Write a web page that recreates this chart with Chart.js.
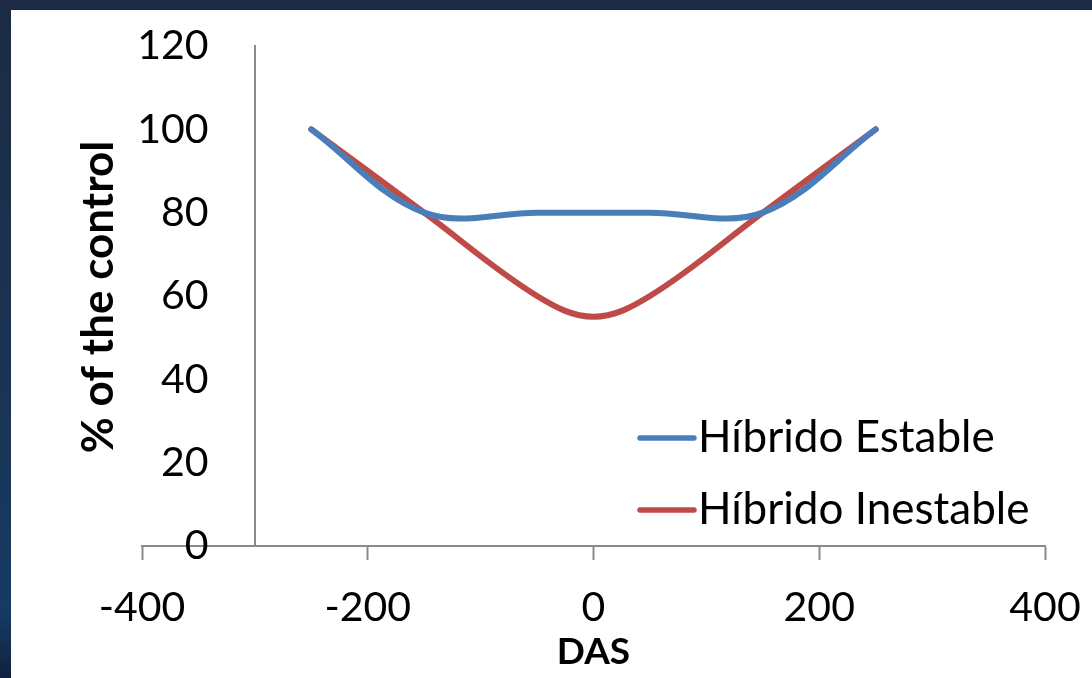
<!DOCTYPE html>
<html>
<head>
<meta charset="utf-8">
<script src="https://cdn.jsdelivr.net/npm/chart.js@4.4.1/dist/chart.umd.min.js"></script>
<style>
  html, body { margin: 0; padding: 0; }
  body {
    width: 1092px; height: 678px; overflow: hidden;
    background: linear-gradient(to bottom, #1c2b43 0%, #1b3250 45%, #173a63 90%, #10223f 100%);
    position: relative;
  }
  #wrap {
    position: absolute; left: 11px; top: 10px;
    width: 1081px; height: 668px; background: #ffffff;
  }
  canvas { display: block; }
</style>
</head>
<body>
<div id="wrap"><canvas id="chart" width="1081" height="668"></canvas></div>
<script>
// Days after sowing (DAS) and yield as % of the control
const das = [-250, -150, -50, 0, 50, 150, 250];
const estable = [100, 80, 80, 80, 80, 80, 100];
const inestable = [100, 80, 60, 55, 60, 80, 100];

const seriesNames = ['Híbrido Estable', 'Híbrido Inestable'];
const seriesColors = ['#4a7ebb', '#be4b48'];

const xTicks = [-400, -200, 0, 200, 400];
const yTicks = [0, 20, 40, 60, 80, 100, 120];

const yTitle = '% of the control';
const xTitle = 'DAS';

const FONT = 'Lato, Calibri, "Open Sans", sans-serif';

function toPoints(values) {
  return das.map((d, i) => ({ x: d, y: values[i] }));
}

// Rotated y-axis title and the in-plot legend
const decorations = {
  id: 'decorations',
  afterDraw(chart) {
    const { ctx } = chart;
    ctx.save();
    ctx.font = 'bold 44px ' + FONT;
    ctx.fillStyle = '#000';
    ctx.textAlign = 'center';
    ctx.textBaseline = 'middle';
    ctx.translate(88, 287);
    ctx.rotate(-Math.PI / 2);
    ctx.fillText(yTitle, 0, 0);
    ctx.restore();

    ctx.save();
    ctx.font = '44px ' + FONT;
    ctx.textBaseline = 'middle';
    ctx.textAlign = 'left';
    chart.data.datasets.forEach((ds, i) => {
      const y = 428 + i * 72;
      ctx.strokeStyle = ds.borderColor;
      ctx.lineWidth = 5.5;
      ctx.lineCap = 'round';
      ctx.beginPath();
      ctx.moveTo(629, y);
      ctx.lineTo(683, y);
      ctx.stroke();
      ctx.fillStyle = '#000';
      ctx.fillText(ds.label, 687, y);
    });
    ctx.restore();
  }
};

function lineDataset(i, values) {
  return {
    label: seriesNames[i],
    data: toPoints(values),
    borderColor: seriesColors[i],
    backgroundColor: seriesColors[i],
    borderWidth: 6,
    borderCapStyle: 'round',
    showLine: true,
    tension: 0.36,
    pointRadius: 0,
    pointHoverRadius: 0
  };
}

new Chart(document.getElementById('chart'), {
  type: 'scatter',
  data: {
    datasets: [lineDataset(0, estable), lineDataset(1, inestable)]
  },
  options: {
    responsive: false,
    animation: false,
    events: [],
    layout: { padding: { left: 131, right: 47, top: 36, bottom: 0 } },
    plugins: {
      legend: { display: false },
      tooltip: { enabled: false }
    },
    scales: {
      x: {
        type: 'linear',
        min: -400,
        max: 400,
        afterBuildTicks: s => { s.ticks = xTicks.map(v => ({ value: v })); },
        afterFit: s => {
          s.height = 132;
          s.paddingLeft = 0;
          s.paddingRight = 0;
        },
        grid: {
          drawOnChartArea: false,
          drawTicks: true,
          tickLength: 14,
          tickWidth: 2,
          tickColor: '#8a8a8a'
        },
        border: { display: true, color: '#8a8a8a', width: 2 },
        ticks: {
          color: '#000',
          font: { family: FONT, size: 41 },
          padding: 23,
          maxRotation: 0
        },
        title: {
          display: true,
          text: xTitle,
          color: '#000',
          font: { family: FONT, size: 37, weight: 'bold' },
          padding: { top: 0, bottom: 4 }
        }
      },
      // vertical axis line crossing at DAS = -300
      y: {
        type: 'linear',
        min: 0,
        max: 120,
        position: { x: -300 },
        afterBuildTicks: s => { s.ticks = yTicks.map(v => ({ value: v })); },
        grid: { drawOnChartArea: false, drawTicks: false },
        border: { display: true, color: '#8a8a8a', width: 2 },
        ticks: { display: false }
      },
      // value labels of the vertical axis
      yLabels: {
        type: 'linear',
        axis: 'y',
        min: 0,
        max: 120,
        position: { x: -341 },
        afterBuildTicks: s => { s.ticks = yTicks.map(v => ({ value: v })); },
        grid: { display: false, drawTicks: false },
        border: { display: false },
        ticks: {
          color: '#000',
          font: { family: FONT, size: 41 },
          padding: 0
        }
      }
    }
  },
  plugins: [decorations]
});
</script>
</body>
</html>
